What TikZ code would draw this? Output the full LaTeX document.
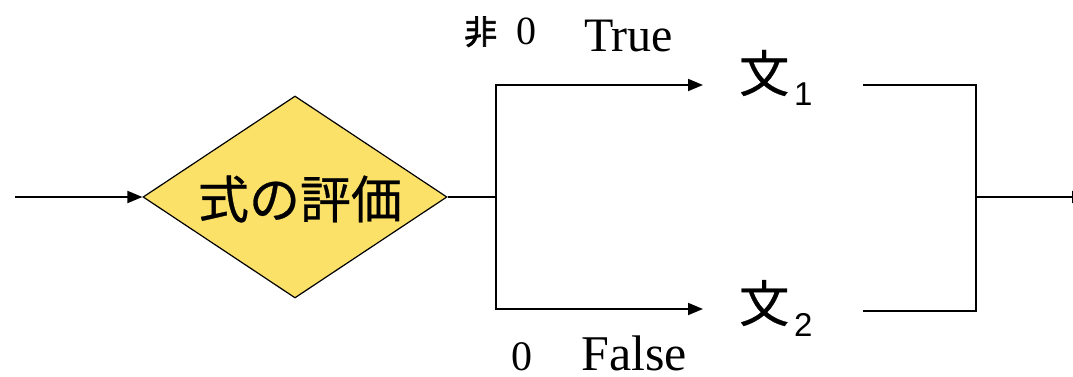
\documentclass[tikz,border=0pt]{standalone}
\usepackage{fontspec}
\setmainfont{Liberation Serif}
\newfontfamily\cjk[FakeBold=0.6]{Noto Sans CJK JP}
\newfontfamily\cjkbold[FakeBold=2]{Noto Sans CJK JP}
\newfontfamily\subsans{Liberation Sans}
\usetikzlibrary{shapes.geometric,arrows.meta}
\definecolor{diayellow}{RGB}{252,225,105}
\begin{document}
\begin{tikzpicture}[x=1pt,y=-1pt,
  conn/.style={line width=1.9pt},
  arr/.style={conn,-{Triangle[length=15pt,width=12pt]}},
  decision/.style={diamond,draw=black,line width=1.2pt,fill=diayellow,minimum width=304pt,minimum height=202pt,inner sep=0pt},
  stmt/.style={anchor=base west,inner sep=0pt,font=\cjk\fontsize{50}{50}\selectfont},
  lab/.style={anchor=base west,inner sep=0pt,font=\fontsize{48}{48}\selectfont},
  zero/.style={anchor=base west,inner sep=0pt,font=\fontsize{40}{40}\selectfont}]
\useasboundingbox (0,0) rectangle (1073,377);
% decision
\node[decision] (d) at (295,197) {};
\node[inner sep=0pt,font=\cjk\fontsize{51}{51}\selectfont] (dt) at (300,199) {式の評価};
% statements
\node[stmt] (s1) at (739,92) {文\kern5pt\raisebox{-14pt}{\subsans\fontsize{33}{33}\selectfont 1}};
\node[stmt] (s2) at (739,322) {文\kern5pt\raisebox{-14pt}{\subsans\fontsize{33}{33}\selectfont 2}};
% labels
\node[inner sep=0pt,anchor=base west,font=\cjkbold\fontsize{33}{33}\selectfont] (nz) at (464,44) {非};
\node[zero] (z1) at (516,45) {0};
\node[lab] (tl) at (584,52) {True};
\node[zero,font=\fontsize{42}{42}\selectfont] (z2) at (511,370) {0};
\node[lab,font=\fontsize{50}{50}\selectfont] (fl) at (581,370) {False};
% coordinates
\coordinate (in) at (15,197);
\coordinate (j) at (496,197);
\coordinate (t1) at (703,85);
\coordinate (t2) at (703,309);
\coordinate (r1) at (863,85);
\coordinate (r2) at (863,311);
\coordinate (m) at (976,197);
\coordinate (out) at (1087,197);
% connectors
\draw[arr] (in) -- (d.west);
\draw[conn] (d.east) -- (j);
\draw[arr] (j) |- (t1);
\draw[arr] (j) |- (t2);
\draw[conn] (r1) -| (m);
\draw[conn] (r2) -| (m);
\draw[arr] (m) -- (out);
\end{tikzpicture}
\end{document}
